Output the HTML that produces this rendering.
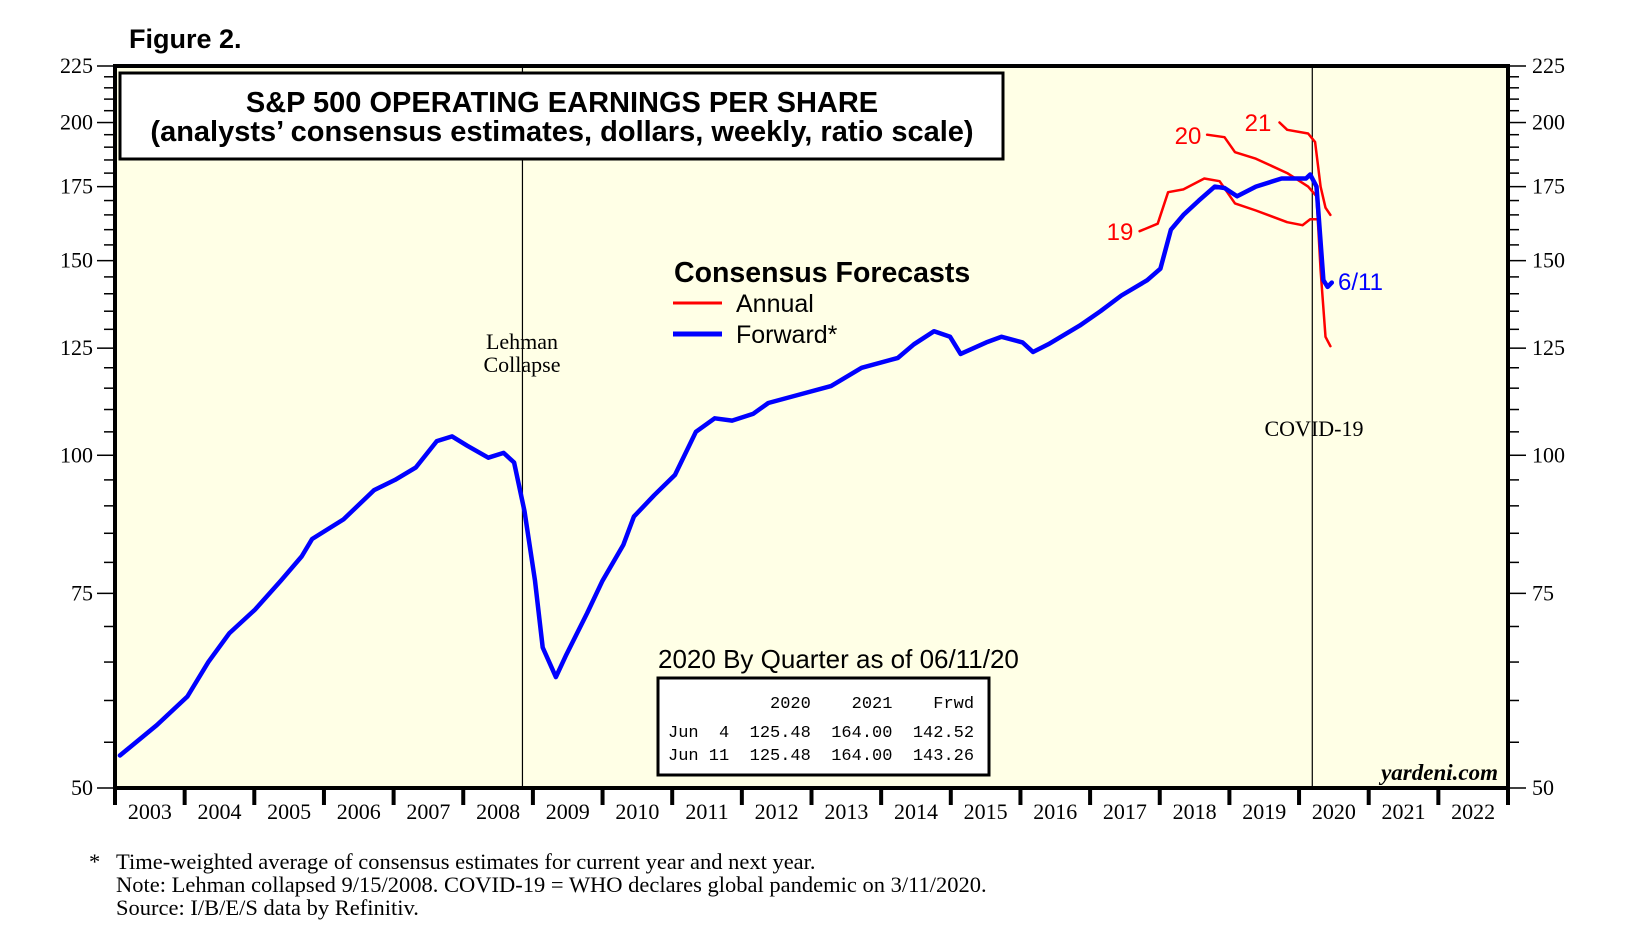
<!DOCTYPE html>
<html><head><meta charset="utf-8"><style>
html,body{margin:0;padding:0;background:#fff;}
svg{display:block;font-family:"Liberation Sans",sans-serif;}
.serif{font-family:"Liberation Serif",serif;}
.mono{font-family:"Liberation Mono",monospace;}
</style></head><body>
<svg id="chart" width="1625" height="949" viewBox="0 0 1625 949" xmlns="http://www.w3.org/2000/svg">
<text x="129" y="48" font-size="27" font-weight="bold">Figure 2.</text>
<rect x="115" y="66" width="1393" height="722" fill="#FFFFE6"/>
<g id="grid"></g>
<g id="series"></g>
<rect x="115" y="66" width="1393" height="722" fill="none" stroke="#000" stroke-width="4"/>
<g>
<rect x="120" y="73" width="883" height="86" fill="#fff" stroke="#000" stroke-width="3"/>
<text x="562" y="112" font-size="29" font-weight="bold" text-anchor="middle">S&amp;P 500 OPERATING EARNINGS PER SHARE</text>
<text x="562" y="141" font-size="29" font-weight="bold" text-anchor="middle">(analysts’ consensus estimates, dollars, weekly, ratio scale)</text>
</g>
<g>
<text x="674" y="282" font-size="28.5" font-weight="bold">Consensus Forecasts</text>
<line x1="673" y1="303" x2="722" y2="303" stroke="#f00" stroke-width="3"/>
<text x="736" y="312" font-size="25">Annual</text>
<line x1="673" y1="334" x2="722" y2="334" stroke="#00f" stroke-width="5"/>
<text x="736" y="343" font-size="25">Forward*</text>
</g>
<text x="522" y="349" class="serif" font-size="22" text-anchor="middle">Lehman</text>
<text x="522" y="372" class="serif" font-size="22" text-anchor="middle">Collapse</text>
<text x="1314" y="436" class="serif" font-size="22" text-anchor="middle">COVID-19</text>
<text x="1120" y="240" font-size="24" fill="#f00" text-anchor="middle">19</text>
<text x="1188" y="144" font-size="24" fill="#f00" text-anchor="middle">20</text>
<text x="1258" y="131" font-size="24" fill="#f00" text-anchor="middle">21</text>
<text x="1338" y="290" font-size="24" fill="#00f">6/11</text>
<text x="658" y="668" font-size="26">2020 By Quarter as of 06/11/20</text>
<g>
<rect x="658" y="678" width="331" height="97" fill="#fff" stroke="#000" stroke-width="3"/>
<text class="mono" font-size="17" xml:space="preserve"><tspan x="668" y="708">          2020    2021    Frwd</tspan></text>
<text class="mono" font-size="17" xml:space="preserve"><tspan x="668" y="737">Jun  4  125.48  164.00  142.52</tspan></text>
<text class="mono" font-size="17" xml:space="preserve"><tspan x="668" y="760">Jun 11  125.48  164.00  143.26</tspan></text>
</g>
<text x="1498" y="780" class="serif" font-size="23" font-style="italic" font-weight="bold" text-anchor="end">yardeni.com</text>
<g class="serif" font-size="22.5">
<text x="89" y="869">*</text>
<text x="116" y="869">Time-weighted average of consensus estimates for current year and next year.</text>
<text x="116" y="892">Note: Lehman collapsed 9/15/2008. COVID-19 = WHO declares global pandemic on 3/11/2020.</text>
<text x="116" y="915">Source: I/B/E/S data by Refinitiv.</text>
</g>
<g id="axes"></g>
</svg>
<script>
const fwdDates=[2003.07,2003.6,2004.04,2004.34,2004.64,2005.01,2005.38,2005.68,2005.83,2006.28,2006.72,2007.02,2007.32,2007.62,2007.84,2008.06,2008.36,2008.58,2008.73,2008.88,2009.03,2009.14,2009.33,2009.48,2009.78,2010.0,2010.3,2010.45,2010.74,2011.04,2011.34,2011.61,2011.86,2012.16,2012.38,2012.83,2013.28,2013.72,2014.24,2014.47,2014.76,2014.99,2015.14,2015.51,2015.73,2016.03,2016.18,2016.4,2016.85,2017.15,2017.45,2017.82,2018.01,2018.16,2018.34,2018.56,2018.79,2018.93,2019.11,2019.38,2019.75,2020.1,2020.16,2020.25,2020.35,2020.41,2020.47];
const fwdValues=[53.5,57,60.5,65,69,72.5,77,81,84,87.5,93,95,97.5,103,104,102,99.5,100.5,98.5,89,77,67,63,66,72,77,83,88,92,96,105,108,107.5,109,111.5,113.5,115.5,120,122.5,126,129.5,128,123.5,126.5,128,126.5,124,126,131,135,139.5,144,147.5,160,165,170,175,174.5,171.5,175,178,178,179.5,175,144,142,143.3];
const y19Dates=[2017.71,2017.97,2018.12,2018.34,2018.64,2018.86,2019.08,2019.38,2019.83,2020.05,2020.16,2020.25];
const y19Values=[159.5,162,173,174,178,177,169,166.5,162.5,161.5,163.5,163.5];
const y20Dates=[2018.68,2018.93,2019.08,2019.38,2019.83,2020.13,2020.25,2020.31,2020.38,2020.45];
const y20Values=[195,194,188,185.5,180,175,171.5,147,128,125.5];
const y21Dates=[2019.72,2019.83,2020.13,2020.23,2020.31,2020.38,2020.45];
const y21Values=[200,197,195.5,192,175,167.5,165];
const yLabels=[50,75,100,125,150,175,200,225];
const years=[2003,2004,2005,2006,2007,2008,2009,2010,2011,2012,2013,2014,2015,2016,2017,2018,2019,2020,2021,2022];
const eventDates=[2008.85,2020.19];

const NS='http://www.w3.org/2000/svg';
const X0=115,X1=1508,Y0=66,Y1=788;
function xs(t){return X0+(t-2003)*(X1-X0)/20;}
function ys(v){return Y0+(Math.log(225)-Math.log(v))/Math.log(4.5)*(Y1-Y0);}
function mk(tag,attrs,parent){const e=document.createElementNS(NS,tag);for(const k in attrs)e.setAttribute(k,attrs[k]);parent.appendChild(e);return e;}
const grid=document.getElementById('grid'),series=document.getElementById('series'),axes=document.getElementById('axes');
eventDates.forEach((d,i)=>{
  const l=mk('line',{x1:xs(d),x2:xs(d),y1:Y0,y2:Y1,stroke:'#000','stroke-width':1.2},grid);
  
  
});
function path(dates,vals,color,w,name){
  let d='';dates.forEach((t,i)=>{d+=(i?'L':'M')+xs(t).toFixed(1)+','+ys(vals[i]).toFixed(1);});
  const p=mk('path',{d:d,fill:'none',stroke:color,'stroke-width':w,'stroke-linejoin':'round','stroke-linecap':'round'},series);
  
  
}
path(y19Dates,y19Values,'#f00',2.5,'annual-2019-line');
path(y20Dates,y20Values,'#f00',2.5,'annual-2020-line');
path(y21Dates,y21Values,'#f00',2.5,'annual-2021-line');
path(fwdDates,fwdValues,'#00f',4.5,'forward-line');
for(let v=50;v<=225;v+=5){
  const major=yLabels.includes(v);const y=ys(v);const len=major?16:9;
  mk('line',{x1:X0-2-len,x2:X0-2,y1:y,y2:y,stroke:'#000','stroke-width':1.5},axes);
  mk('line',{x1:X1+2,x2:X1+2+len,y1:y,y2:y,stroke:'#000','stroke-width':1.5},axes);
}
yLabels.forEach(v=>{
  const y=ys(v);
  const a=mk('text',{x:93,y:y+7,'text-anchor':'end','font-size':22,class:'serif'},axes);a.textContent=v;
  
  
  const b=mk('text',{x:1532,y:y+7,'font-size':22,class:'serif'},axes);b.textContent=v;
  
  
});
for(let i=0;i<=20;i++){
  const x=xs(2003+i);
  mk('line',{x1:x,x2:x,y1:Y1,y2:Y1+17,stroke:'#000','stroke-width':4},axes);
}
years.forEach(yr=>{
  const t=mk('text',{x:xs(yr+0.5),y:Y1+31,'text-anchor':'middle','font-size':22,class:'serif'},axes);t.textContent=yr;
  
  
});
</script>
</body></html>
